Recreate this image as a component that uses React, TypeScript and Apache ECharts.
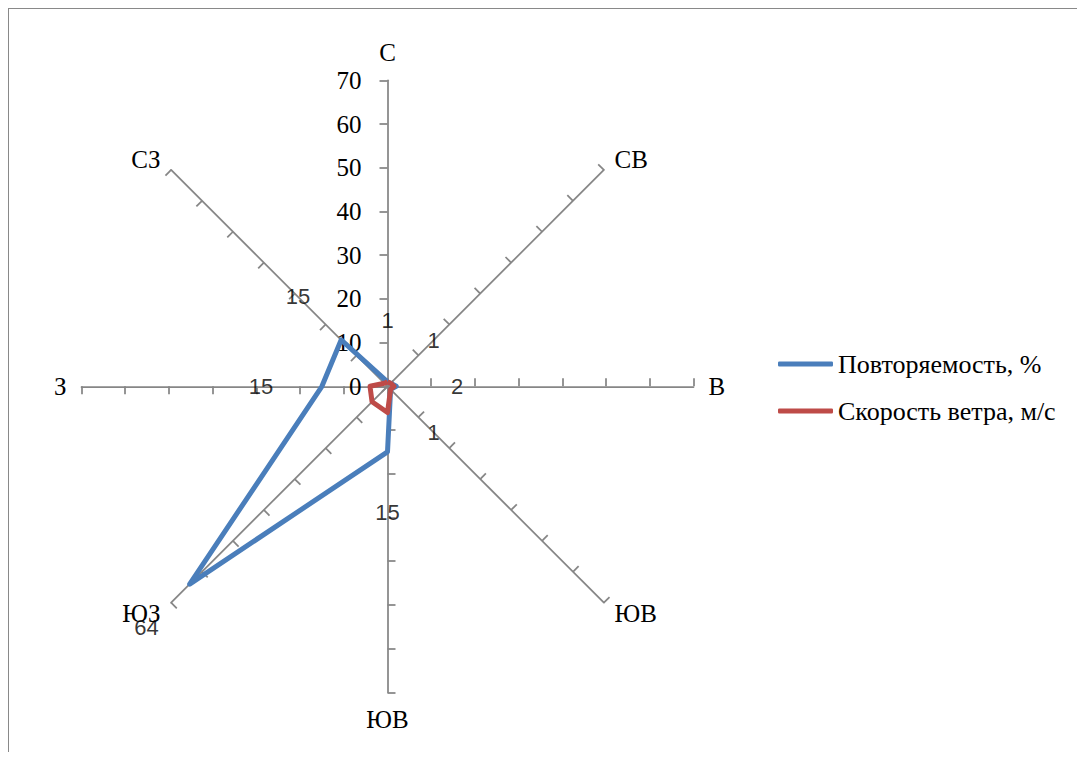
import React, { useEffect, useRef } from "react";
import * as echarts from "echarts";

// ---- data ----
const directions = ["С", "СВ", "В", "ЮВ", "ЮВ", "ЮЗ", "З", "СЗ"];
const frequency = [1, 1, 2, 1, 15, 64, 15, 15];
const windSpeed = [1, 1, 1.5, 1, 6, 5, 4, 1];
const seriesNames = ["Повторяемость, %", "Скорость ветра, м/с"];
const axisMin = 0;
const axisMax = 70;
const axisStep = 10;

// ---- styles ----
const SERIF = '"Liberation Serif", "Times New Roman", serif';
const SANS = '"Liberation Sans", Arial, sans-serif';
const BLUE = "#4A7EBB";
const RED = "#BE4B48";
const GRAY = "#868686";
const CENTER = [378.5, 377.3];
const RADIUS = 306;
const LABEL_GAP = 61;

// ECharts radar places indicators counter-clockwise; Excel goes clockwise.
const order = directions.map((_, k) => (k === 0 ? 0 : directions.length - k));

export default function App() {
  const ref = useRef<HTMLDivElement>(null);

  useEffect(() => {
    if (!ref.current) return;
    const chart = echarts.init(ref.current, undefined, { renderer: "svg" });
    const step = 360 / directions.length;

    const indicator = order.map((i) => ({
      name: directions[i],
      min: axisMin,
      max: axisMax,
      axisLabel:
        i === 0
          ? {
              show: true,
              color: "#000",
              fontFamily: SERIF,
              fontSize: 25,
              margin: 26,
              showMinLabel: true,
              showMaxLabel: true,
            }
          : { show: false },
    }));

    const labelData = frequency.map((v, i) => {
      const a = (i * step * Math.PI) / 180;
      return {
        value: [v, i * step],
        label: {
          show: true,
          position: "inside",
          formatter: String(v),
          offset: [LABEL_GAP * Math.sin(a), -LABEL_GAP * Math.cos(a)],
        },
      };
    });

    chart.setOption({
      animation: false,
      backgroundColor: "#ffffff",
      legend: {
        orient: "vertical",
        left: 764,
        top: 337,
        itemWidth: 55,
        itemHeight: 5,
        itemGap: 21,
        icon: "roundRect",
        data: seriesNames,
        selectedMode: false,
        textStyle: { color: "#000", fontFamily: SERIF, fontSize: 26 },
      },
      radar: {
        center: CENTER,
        radius: RADIUS,
        startAngle: 90,
        shape: "polygon",
        splitNumber: (axisMax - axisMin) / axisStep,
        indicator,
        nameGap: 15,
        axisName: { color: "#000", fontFamily: SERIF, fontSize: 25 },
        splitLine: { show: false },
        splitArea: { show: false },
        axisLine: { show: true, lineStyle: { color: GRAY, width: 1.75 } },
        axisTick: { show: true, length: 8, lineStyle: { color: GRAY, width: 1.75 } },
        axisLabel: { show: false },
      },
      polar: { center: CENTER, radius: RADIUS },
      angleAxis: {
        type: "value",
        min: 0,
        max: 360,
        startAngle: 90,
        clockwise: true,
        show: false,
        axisLine: { show: false },
        splitLine: { show: false },
        axisTick: { show: false },
        axisLabel: { show: false },
      },
      radiusAxis: {
        type: "value",
        min: axisMin,
        max: axisMax,
        show: false,
        axisLine: { show: false },
        splitLine: { show: false },
        axisTick: { show: false },
        axisLabel: { show: false },
      },
      series: [
        {
          type: "radar",
          name: seriesNames[0],
          symbol: "none",
          lineStyle: { color: BLUE, width: 5 },
          itemStyle: { color: BLUE },
          data: [{ name: seriesNames[0], value: order.map((i) => frequency[i]) }],
        },
        {
          type: "radar",
          name: seriesNames[1],
          symbol: "none",
          lineStyle: { color: RED, width: 5 },
          itemStyle: { color: RED },
          data: [{ name: seriesNames[1], value: order.map((i) => windSpeed[i]) }],
        },
        {
          type: "scatter",
          coordinateSystem: "polar",
          silent: true,
          symbolSize: 1,
          itemStyle: { color: "rgba(0,0,0,0)" },
          label: { color: "#000", fontFamily: SANS, fontSize: 22 },
          data: labelData,
          z: 5,
        },
      ],
    });

    return () => chart.dispose();
  }, []);

  return (
    <div style={{ width: 1077, height: 744, overflow: "hidden" }}>
      <div
        style={{
          width: 1100,
          height: 800,
          borderTop: "1px solid #898989",
          borderLeft: "1px solid #898989",
          background: "#fff",
        }}
      >
        <div ref={ref} style={{ width: 1099, height: 799 }} />
      </div>
    </div>
  );
}
